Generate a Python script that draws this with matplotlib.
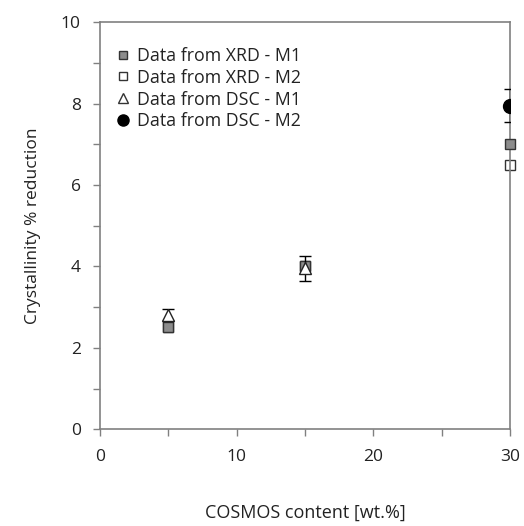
import matplotlib
matplotlib.use("Agg")
import matplotlib.pyplot as plt
from matplotlib.ticker import MultipleLocator
from matplotlib.lines import Line2D

plt.rcParams['font.family'] = ['Open Sans', 'DejaVu Sans']

# COSMOS content (wt.%)
xrd_x = [5, 15, 30]
xrd_m1 = [2.5, 4.0, 7.0]
xrd_m2 = [2.5, 4.0, 6.5]

dsc_m1_x = [5, 15]
dsc_m1 = [2.8, 3.95]
dsc_m1_err = [0.15, 0.3]

dsc_m2_x = [30]
dsc_m2 = [7.95]
dsc_m2_err = [0.4]

labels = ['Data from XRD - M1', 'Data from XRD - M2',
          'Data from DSC - M1', 'Data from DSC - M2']

fig = plt.figure(figsize=(5.24, 5.26), dpi=100)
ax = fig.add_axes([0.191, 0.184, 0.782, 0.774])

grey = '#808080'
edge = '#333333'
txt = '#222222'

ax.plot(xrd_x, xrd_m1, 's', ms=7, mfc='#8c8c8c', mec=edge, mew=1,
        clip_on=False, zorder=3)
ax.plot(xrd_x, xrd_m2, 's', ms=7, mfc='white', mec=edge, mew=1,
        clip_on=False, zorder=2)
ax.errorbar(dsc_m1_x, dsc_m1, yerr=dsc_m1_err, fmt='^', ms=8, mfc='white',
            mec='#222222', mew=1, ecolor='black', elinewidth=1, capsize=4,
            clip_on=False, zorder=4)
ax.errorbar(dsc_m2_x, dsc_m2, yerr=dsc_m2_err, fmt='o', ms=10, mfc='black',
            mec='black', ecolor='black', elinewidth=1, capsize=4, zorder=5)

ax.set_xlim(0, 30)
ax.set_ylim(0, 10)
ax.xaxis.set_major_locator(MultipleLocator(10))
ax.xaxis.set_minor_locator(MultipleLocator(5))
ax.yaxis.set_major_locator(MultipleLocator(2))
ax.yaxis.set_minor_locator(MultipleLocator(1))

for s in ax.spines.values():
    s.set_color(grey)
    s.set_linewidth(1.2)
ax.tick_params(which='both', direction='out', length=5, width=1, color=grey,
               top=False, right=False)
ax.tick_params(which='major', labelsize=12.5, pad=9, labelcolor=txt)

ax.set_xlabel('COSMOS content [wt.%]', fontsize=13, labelpad=28, color=txt)
ax.set_ylabel('Crystallinity % reduction', fontsize=12.5, labelpad=14, color=txt)

handles = [
    Line2D([], [], ls='none', marker='s', ms=6, mfc='#8c8c8c', mec=edge, mew=1),
    Line2D([], [], ls='none', marker='s', ms=6, mfc='white', mec=edge, mew=1),
    Line2D([], [], ls='none', marker='^', ms=7, mfc='white', mec=edge, mew=1),
    Line2D([], [], ls='none', marker='o', ms=8, mfc='black', mec='black'),
]
ax.legend(handles, labels, loc='upper left', frameon=False, fontsize=12.8,
          handletextpad=0.2, labelspacing=0.22, borderaxespad=0.3,
          handlelength=1.2, bbox_to_anchor=(0.0, 0.97), labelcolor=txt)

fig.savefig('out.png', dpi=100)
